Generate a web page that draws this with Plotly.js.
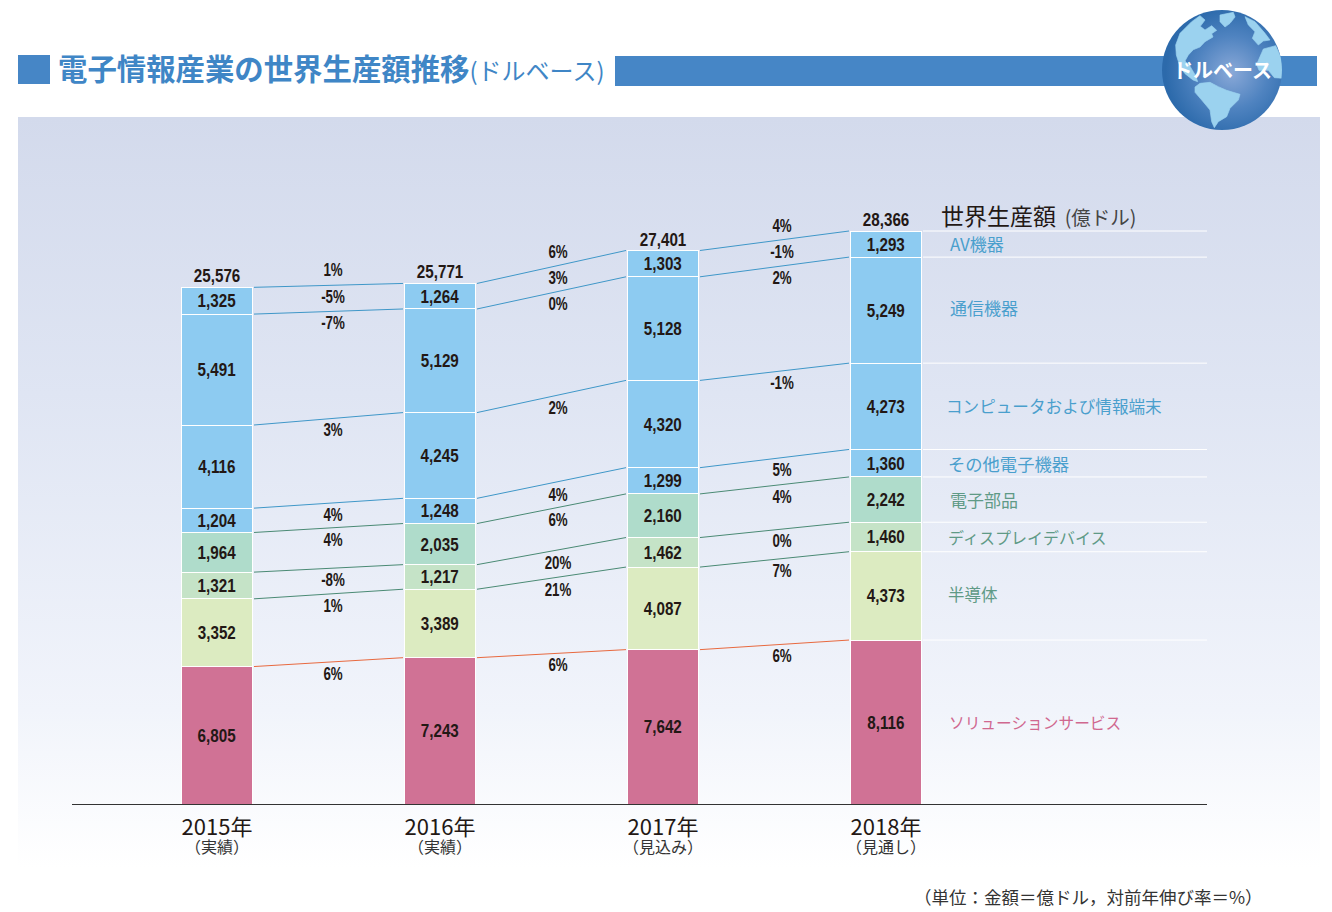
<!DOCTYPE html>
<html><head><meta charset="utf-8">
<script src="https://cdn.plot.ly/plotly-3.0.1.min.js"></script>
<style>html,body{margin:0;padding:0;background:#fff}#c{width:1332px;height:912px}</style>
</head><body><div id="c"></div>
<script>
const years = ['2015年','2016年','2017年','2018年'];
const yearNotes = ['（実績）','（実績）','（見込み）','（見通し）'];
const totals = [25576,25771,27401,28366];
const solution = [6805,7243,7642,8116];
const semiconductor = [3352,3389,4087,4373];
const display = [1321,1217,1462,1460];
const parts = [1964,2035,2160,2242];
const otherDevices = [1204,1248,1299,1360];
const computers = [4116,4245,4320,4273];
const telecom = [5491,5129,5128,5249];
const av = [1325,1264,1303,1293];
const totalGrowth = ['1%','6%','4%'];
const avGrowth = ['-5%','3%','-1%'];
const telecomGrowth = ['-7%','0%','2%'];
const computerGrowth = ['3%','2%','-1%'];
const otherGrowth = ['4%','4%','5%'];
const partsGrowth = ['4%','6%','4%'];
const displayGrowth = ['-8%','20%','0%'];
const semiGrowth = ['1%','21%','7%'];
const solutionGrowth = ['6%','6%','6%'];
const seriesNames = ['ソリューションサービス','半導体','ディスプレイデバイス','電子部品','その他電子機器','コンピュータおよび情報端末','通信機器','AV機器'];

const W=1332,H=912,L=72,R=1207,B=804,T=117;
const CJK='"Noto Sans CJK JP","Noto Sans",sans-serif';
const NUM='"Liberation Sans",sans-serif';
const pxPerX=223, x0=217;
const xOf=p=>(p-x0)/pxPerX;
const yRange=(B-T)/(573/28366);
const paperX=p=>(p-L)/(R-L), paperY=p=>(B-p)/(B-T);

const stack=[solution,semiconductor,display,parts,otherDevices,computers,telecom,av];
const fills=['#d07295','#dcebc1','#c5e3c7','#afdccb','#8dcbf1','#8dcbf1','#8dcbf1','#8dcbf1'];
const lineCols=['#e8693f','#4a8a74','#4a8a74','#4a8a74','#3f97c8','#3f97c8','#3f97c8','#3f97c8'];
const labelCols=['#d0688f','#5f9a86','#5f9a86','#5f9a86','#4a9fcd','#4a9fcd','#4a9fcd','#4a9fcd'];
const labelLeft=[947,946,946,948,946,944,948,948];
const labelSize=[15.7,16.5,16,17,17.3,16.6,17,17];
const labelNudge=[0,2,0,0,0,0,3,1];
const growth=[solutionGrowth,semiGrowth,displayGrowth,partsGrowth,otherGrowth,computerGrowth,telecomGrowth,avGrowth];

const idx=[0,1,2,3];
const tops=[]; stack.forEach((s,k)=>tops.push(idx.map(i=>s[i]+(k?tops[k-1][i]:0))));

const traces=[];
stack.forEach((s,k)=>{
  traces.push({type:'bar',x:idx,y:s,width:71/pxPerX,offset:-35.7/pxPerX,name:seriesNames[k],
    marker:{color:fills[k],line:{color:'#fff',width:1}},
    text:s.map(v=>v.toLocaleString('en-US')),textposition:'inside',insidetextanchor:'middle',
    constraintext:'none',textangle:0,
    textfont:{family:NUM,size:19,color:'#231815',weight:700},hoverinfo:'skip',showlegend:false});
});
const gapStart=xOf(254)-xOf(217), gapEnd=xOf(403)-xOf(217);
tops.forEach((t,k)=>{
  [0,1,2].forEach(i=>{
    traces.push({type:'scatter',mode:'lines',x:[i+gapStart,i+gapEnd],y:[t[i],t[i+1]],
      line:{color:lineCols[k],width:1},hoverinfo:'skip',showlegend:false});
  });
  traces.push({type:'scatter',mode:'lines',x:[3+(923-886)/pxPerX,xOf(R)],y:[t[3],t[3]],
    line:{color:'#ffffff',width:1},hoverinfo:'skip',showlegend:false});
});

const ann=[];
idx.forEach(i=>ann.push({x:i,y:tops[7][i],xref:'x',yref:'y',yshift:i===2?11:12,text:totals[i].toLocaleString('en-US'),
  showarrow:false,yanchor:'middle',font:{family:NUM,size:19,color:'#231815',weight:700}}));
const gapX=i=>i+0.5+(4.5+i*1.5)/pxPerX;
[0,1,2].forEach(i=>{
  ann.push({x:gapX(i),y:(tops[7][i]+tops[7][i+1])/2,xref:'x',yref:'y',yshift:15,text:totalGrowth[i],showarrow:false,
    yanchor:'middle',font:{family:NUM,size:18,color:'#231815',weight:700}});
  growth.forEach((g,k)=>ann.push({x:gapX(i),y:(tops[k][i]+tops[k][i+1])/2,xref:'x',yref:'y',yshift:-11.5,text:g[i],showarrow:false,
    yanchor:'middle',font:{family:NUM,size:18,color:'#231815',weight:700}}));
});
seriesNames.forEach((n,k)=>{
  ann.push({x:3+(labelLeft[k]-886)/pxPerX,y:tops[k][3]-stack[k][3]/2,xref:'x',yref:'y',yshift:labelNudge[k],text:n,showarrow:false,
    xanchor:'left',yanchor:'middle',font:{family:CJK,size:labelSize[k],color:labelCols[k]}});
});
ann.push({x:paperX(939),y:paperY(215),xref:'paper',yref:'paper',xanchor:'left',yanchor:'middle',showarrow:false,
  text:'世界生産額<span style="font-size:19.5px;color:#444">&#160;&#160;(億ドル)</span>',font:{family:CJK,size:23,color:'#231815'}});
ann.push({x:paperX(1265),y:paperY(896),xref:'paper',yref:'paper',xanchor:'right',yanchor:'middle',showarrow:false,
  text:'（単位：金額＝億ドル，対前年伸び率＝%）',font:{family:CJK,size:17.5,color:'#333'}});
ann.push({x:paperX(1222),y:paperY(69),xref:'paper',yref:'paper',xanchor:'center',yanchor:'middle',showarrow:false,
  text:'<b>ドルベース</b>',font:{family:CJK,size:20,color:'#ffffff'}});
ann.push({x:paperX(56),y:paperY(67),xref:'paper',yref:'paper',xanchor:'left',yanchor:'middle',showarrow:false,
  text:'<b>電子情報産業の世界生産額推移</b><span style="font-size:24px">(ドルベース)</span>',font:{family:CJK,size:29.4,color:'#3f86c6'}});

const panelSvg=`<svg xmlns="http://www.w3.org/2000/svg" width="1302" height="790" preserveAspectRatio="none"><defs><linearGradient id="g" x1="0" y1="0" x2="0" y2="1"><stop offset="0" stop-color="#d3daec"/><stop offset=".35" stop-color="#dfe5f3"/><stop offset=".75" stop-color="#f1f4fb"/><stop offset=".95" stop-color="#ffffff"/></linearGradient></defs><rect width="1302" height="790" fill="url(#g)"/></svg>`;
const globeSvg=`<svg xmlns="http://www.w3.org/2000/svg" viewBox="21 15 360 360" width="360" height="360"><defs><radialGradient id="r" cx=".58" cy=".52" r=".55"><stop offset="0" stop-color="#8aa9d8"/><stop offset=".55" stop-color="#4f83c0"/><stop offset="1" stop-color="#2c6aab"/></radialGradient><clipPath id="cp"><circle cx="201" cy="195" r="180"/></clipPath></defs><circle cx="201" cy="195" r="180" fill="url(#r)"/><g clip-path="url(#cp)" fill="#9bd2ef" stroke="#9bd2ef" stroke-width="2" stroke-linejoin="round"><path d="M64 150 L62 120 L75 85 L110 50 L135 32 L150 45 L136 64 L150 75 L170 62 L185 76 L170 86 L174 96 L150 110 L135 126 L115 134 L100 150 L90 168 L104 182 L122 212 L128 230 L114 225 L90 206 L76 188Z"/><path d="M195 30 L235 22 L240 36 L225 55 L210 66 L195 50Z"/><path d="M120 246 L135 235 L165 232 L190 245 L215 256 L255 268 L250 285 L225 310 L215 335 L190 350 L178 368 L170 350 L165 315 L140 285 L120 262Z"/><path d="M270 35 L300 50 L330 85 L345 105 L325 108 L310 120 L292 100 L300 80 L280 60Z"/><path d="M305 178 L325 132 L362 122 L384 170 L384 220 L358 218 L340 196 L312 196Z"/></g></svg>`;
const uri=s=>'data:image/svg+xml;base64,'+btoa(s);

const layout={
  width:W,height:H,
  paper_bgcolor:'rgba(0,0,0,0)',plot_bgcolor:'rgba(0,0,0,0)',
  margin:{l:L,r:W-R,t:T,b:H-B,pad:0},
  barmode:'stack',bargap:0,showlegend:false,
  font:{family:CJK},
  xaxis:{range:[xOf(L),xOf(R)],tickmode:'array',tickvals:idx,
    ticktext:idx.map(i=>`<span style="font-size:22px;color:#231815">${years[i]}</span><br><span style="font-size:16px;color:#333">${yearNotes[i]}</span>`),
    ticks:'',showgrid:false,zeroline:false,showline:true,linecolor:'#333333',linewidth:1,
    tickfont:{family:CJK,size:14,color:'#231815'},ticklabelstandoff:13},
  yaxis:{range:[0,yRange],visible:false,showgrid:false,zeroline:false},
  shapes:[
    {type:'rect',xref:'paper',yref:'paper',x0:paperX(18),x1:paperX(50),y0:paperY(84),y1:paperY(55),fillcolor:'#4686c6',line:{width:0},layer:'below'},
    {type:'rect',xref:'paper',yref:'paper',x0:paperX(615),x1:paperX(1317),y0:paperY(86),y1:paperY(56),fillcolor:'#4686c6',line:{width:0},layer:'below'}
  ],
  images:[
    {source:uri(panelSvg),xref:'paper',yref:'paper',x:paperX(18),y:paperY(117),sizex:(1320-18)/(R-L),sizey:(907-117)/(B-T),xanchor:'left',yanchor:'top',sizing:'stretch',layer:'below'},
    {source:uri(globeSvg),xref:'paper',yref:'paper',x:paperX(1162),y:paperY(10),sizex:120/(R-L),sizey:120/(B-T),xanchor:'left',yanchor:'top',sizing:'stretch',layer:'above'}
  ],
  annotations:ann
};
Plotly.newPlot('c',traces,layout,{staticPlot:true,displayModeBar:false}).then(()=>{
  // the reference sets its numerals in a condensed face: squeeze the glyphs horizontally
  document.querySelectorAll('#c .bartext, #c .annotation-text').forEach(el=>{
    if(!/^[-0-9,%]+$/.test(el.textContent)) return;
    const f=el.textContent.includes('%')?0.74:0.8;
    el.setAttribute('textLength',el.getComputedTextLength()*f);
    el.setAttribute('lengthAdjust','spacingAndGlyphs');
  });
});
</script></body></html>
